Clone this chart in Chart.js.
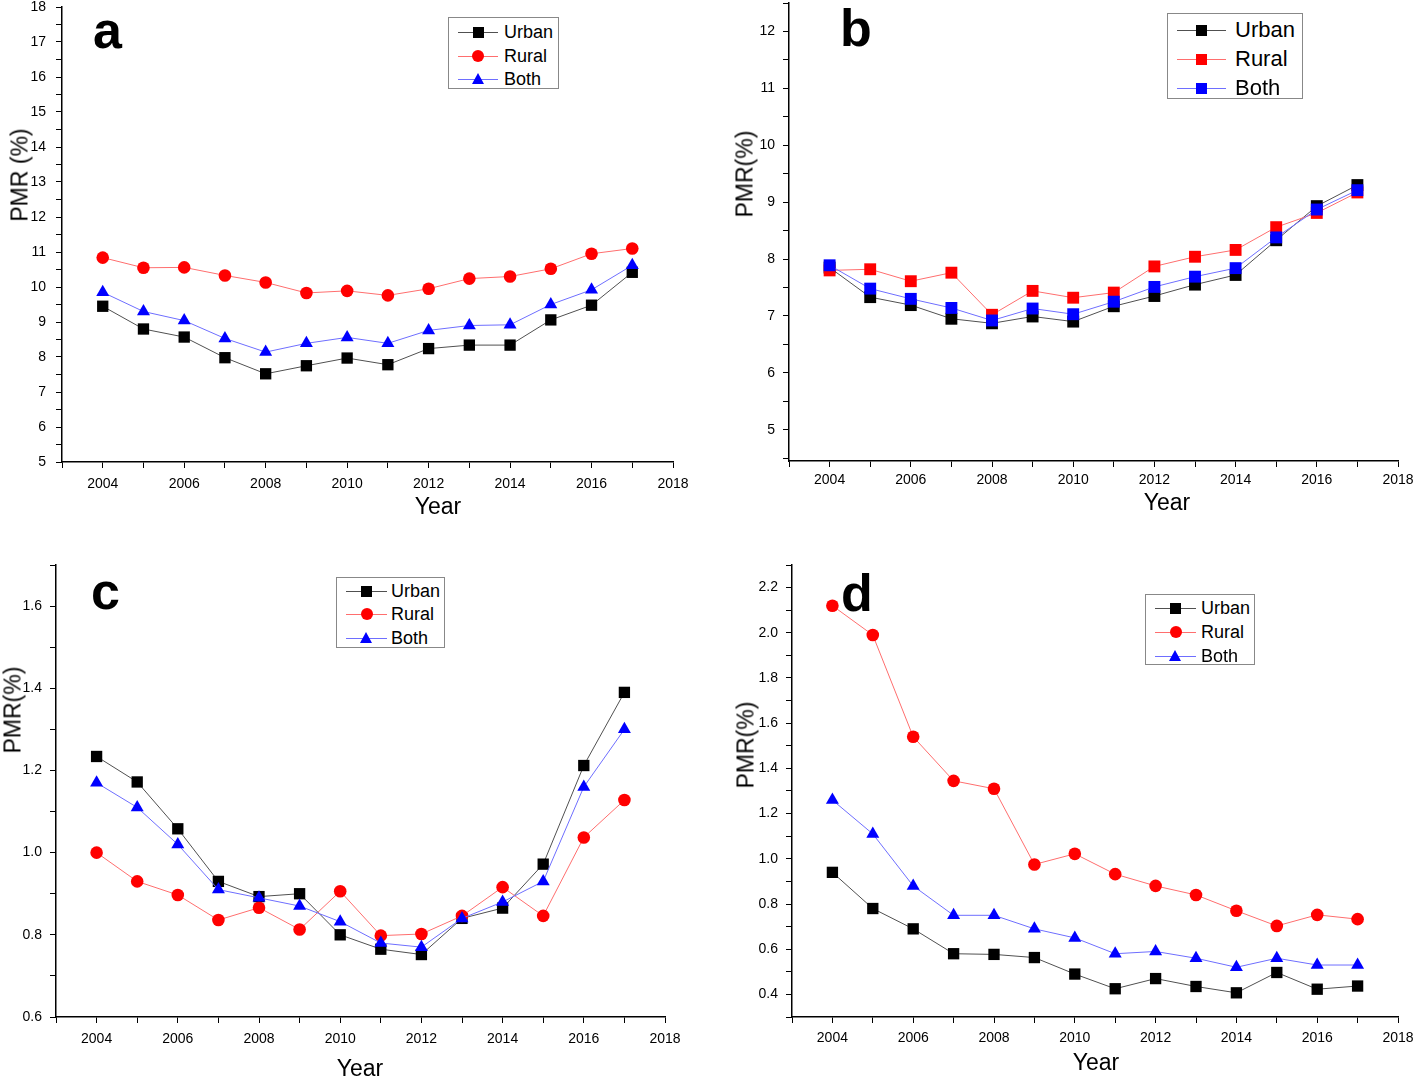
<!DOCTYPE html>
<html>
<head>
<meta charset="utf-8">
<script src="https://cdn.jsdelivr.net/npm/chart.js@4.4.1/dist/chart.umd.min.js"></script>
<style>
  body { margin: 0; background: #fff; font-family: "Liberation Sans", Arial, sans-serif; }
  #wrap { position: relative; width: 1418px; height: 1080px; overflow: hidden; background: #fff; }
  .panel { position: absolute; }
  .txt { position: absolute; white-space: nowrap; color: #000; }
  .letter { font-weight: bold; font-size: 52px; line-height: 1; }
  .ytitle { transform: translate(-50%, -50%) rotate(-90deg); font-size: 23px; }
  .xtitle { transform: translate(-50%, -50%); font-size: 23px; }
  .legend { position: absolute; border: 1.5px solid #888; background: #fff; box-sizing: border-box; }
</style>
</head>
<body>
<div id="wrap">
  <div class="panel" style="left:0;top:0"><canvas id="chartA" width="700" height="520"></canvas></div>
  <div class="panel" style="left:709px;top:0"><canvas id="chartB" width="709" height="520"></canvas></div>
  <div class="panel" style="left:0;top:540px"><canvas id="chartC" width="700" height="540"></canvas></div>
  <div class="panel" style="left:709px;top:540px"><canvas id="chartD" width="709" height="540"></canvas></div>

  <div class="txt letter" style="left:93px;top:4px">a</div>
  <div class="txt letter" style="left:840px;top:2px">b</div>
  <div class="txt letter" style="left:91px;top:565px">c</div>
  <div class="txt letter" style="left:841px;top:567px">d</div>

  <div class="txt ytitle" style="left:20px;top:175px">PMR (%)</div>
  <div class="txt ytitle" style="left:745px;top:174px">PMR(%)</div>
  <div class="txt ytitle" style="left:13px;top:710px">PMR(%)</div>
  <div class="txt ytitle" style="left:746px;top:745px">PMR(%)</div>

  <div class="txt xtitle" style="left:438px;top:506px">Year</div>
  <div class="txt xtitle" style="left:1167px;top:502px">Year</div>
  <div class="txt xtitle" style="left:360px;top:1068px">Year</div>
  <div class="txt xtitle" style="left:1096px;top:1062px">Year</div>
</div>

<script>
const years = [2004, 2005, 2006, 2007, 2008, 2009, 2010, 2011, 2012, 2013, 2014, 2015, 2016, 2017];
const seriesNames = ['Urban', 'Rural', 'Both'];

// panel a
const urbanA = [9.45, 8.8, 8.57, 7.98, 7.52, 7.75, 7.97, 7.78, 8.24, 8.34, 8.34, 9.06, 9.48, 10.42];
const ruralA = [10.84, 10.55, 10.56, 10.33, 10.13, 9.83, 9.89, 9.76, 9.95, 10.24, 10.3, 10.52, 10.95, 11.1];
const bothA  = [9.85, 9.3, 9.04, 8.53, 8.14, 8.39, 8.56, 8.39, 8.76, 8.9, 8.92, 9.5, 9.92, 10.62];

// panel b
const urbanB = [7.85, 7.33, 7.19, 6.95, 6.87, 6.99, 6.9, 7.17, 7.35, 7.55, 7.72, 8.33, 8.93, 9.3];
const ruralB = [7.8, 7.82, 7.61, 7.76, 7.02, 7.44, 7.32, 7.41, 7.87, 8.04, 8.16, 8.56, 8.81, 9.17];
const bothB  = [7.89, 7.48, 7.3, 7.14, 6.92, 7.13, 7.03, 7.25, 7.51, 7.69, 7.84, 8.38, 8.87, 9.21];

// panel c
const urbanC = [1.234, 1.172, 1.058, 0.93, 0.893, 0.9, 0.8, 0.765, 0.752, 0.84, 0.865, 0.972, 1.212, 1.39];
const ruralC = [1.0, 0.93, 0.897, 0.836, 0.866, 0.813, 0.906, 0.798, 0.802, 0.846, 0.916, 0.846, 1.037, 1.128];
const bothC  = [1.17, 1.11, 1.02, 0.91, 0.89, 0.87, 0.832, 0.78, 0.77, 0.84, 0.88, 0.93, 1.16, 1.3];

// panel d
const urbanD = [0.94, 0.78, 0.69, 0.58, 0.577, 0.563, 0.49, 0.425, 0.47, 0.435, 0.407, 0.497, 0.423, 0.437];
const ruralD = [2.12, 1.99, 1.54, 1.345, 1.31, 0.975, 1.022, 0.932, 0.88, 0.84, 0.77, 0.703, 0.752, 0.733];
const bothD  = [1.26, 1.11, 0.88, 0.75, 0.75, 0.69, 0.65, 0.58, 0.59, 0.56, 0.52, 0.56, 0.53, 0.53];

const lineColors = ['#505050', '#ff6e6e', '#6e6eff'];
const markColors = ['#000000', '#ff0000', '#0000ff'];

const isMult = (v, step) => Math.abs(v / step - Math.round(v / step)) < 1e-6;

function stepTicks(min, max, step) {
  const out = [];
  const start = Math.ceil(min / step - 1e-6);
  const end = Math.floor(max / step + 1e-6);
  for (let i = start; i <= end; i++) out.push({ value: +(i * step).toFixed(4) });
  return out;
}

// no extra room for edge labels, the plot box is set by hand
function noPad(s) {
  s.paddingTop = 0; s.paddingBottom = 0; s.paddingLeft = 0; s.paddingRight = 0;
}

function makePanel(id, opts) {
  const canvas = document.getElementById(id);
  const W = canvas.width, H = canvas.height;
  const datasets = opts.values.map((vals, i) => ({
    label: seriesNames[i],
    data: years.map((y, k) => ({ x: y, y: vals[k] })),
    borderColor: lineColors[i],
    borderWidth: 1,
    backgroundColor: markColors[i],
    pointBackgroundColor: markColors[i],
    pointBorderColor: markColors[i],
    pointBorderWidth: 0,
    pointStyle: opts.styles[i],
    pointRadius: opts.radii[i],
    order: 2 - i
  }));
  const tickFont = { family: 'Liberation Sans', size: 14 };

  new Chart(canvas.getContext('2d'), {
    type: 'line',
    data: { datasets },
    options: {
      responsive: false,
      animation: false,
      devicePixelRatio: 1,
      layout: { autoPadding: false, padding: { left: 0, top: opts.top, right: W - opts.right, bottom: 0 } },
      plugins: { legend: { display: false }, tooltip: { enabled: false } },
      elements: { line: { tension: 0 } },
      scales: {
        x: {
          type: 'linear', min: 2003, max: 2018,
          afterFit: s => { s.height = H - opts.bottom; noPad(s); },
          afterBuildTicks: s => { s.ticks = stepTicks(2003, 2018, 1); },
          ticks: {
            autoSkip: false, maxRotation: 0, color: '#000', font: tickFont, padding: opts.xpad,
            callback: v => (v % 2 === 0 ? String(v) : '')
          },
          grid: { drawOnChartArea: false, tickLength: 6, tickColor: '#000', color: '#000' },
          border: { color: '#000', width: 1.5 }
        },
        y: {
          type: 'linear', min: opts.ymin, max: opts.ymax,
          afterFit: s => { s.width = opts.left; noPad(s); },
          afterBuildTicks: s => { s.ticks = stepTicks(opts.ymin, opts.ymax, opts.minor); },
          ticks: {
            autoSkip: false, color: '#000', font: tickFont, padding: opts.ypad,
            callback: v => (isMult(v, opts.major) ? v.toFixed(opts.dec) : '')
          },
          grid: { drawOnChartArea: false, tickLength: 6, tickColor: '#000', color: '#000' },
          border: { color: '#000', width: 1.5 }
        }
      }
    }
  });
}

makePanel('chartA', {
  values: [urbanA, ruralA, bothA], styles: ['rect', 'circle', 'triangle'], radii: [8, 6.3, 7.5],
  left: 62, right: 673, top: 7, bottom: 462, ymin: 5, ymax: 18, major: 1, minor: 0.5, dec: 0, xpad: 8, ypad: 10
});
makePanel('chartB', {
  values: [urbanB, ruralB, bothB], styles: ['rect', 'rect', 'rect'], radii: [8.4, 8.4, 8.4],
  left: 80, right: 689, top: 3, bottom: 461, ymin: 4.45, ymax: 12.5, major: 1, minor: 0.5, dec: 0, xpad: 5, ypad: 8
});
makePanel('chartC', {
  values: [urbanC, ruralC, bothC], styles: ['rect', 'circle', 'triangle'], radii: [8, 6.3, 7.5],
  left: 56, right: 665, top: 25, bottom: 477, ymin: 0.6, ymax: 1.7, major: 0.2, minor: 0.1, dec: 1, xpad: 8, ypad: 8
});
makePanel('chartD', {
  values: [urbanD, ruralD, bothD], styles: ['rect', 'circle', 'triangle'], radii: [8, 6.3, 7.5],
  left: 83, right: 689, top: 25, bottom: 477, ymin: 0.3, ymax: 2.3, major: 0.2, minor: 0.1, dec: 1, xpad: 7, ypad: 8
});

// legend boxes drawn as html
function addLegend(box) {
  const wrap = document.getElementById('wrap');
  const el = document.createElement('div');
  el.className = 'legend';
  el.style.left = box.x + 'px';
  el.style.top = box.y + 'px';
  el.style.width = box.w + 'px';
  el.style.height = box.h + 'px';
  wrap.appendChild(el);
  seriesNames.forEach((name, i) => {
    const cy = box.rows[i] - box.y;
    const line = document.createElement('div');
    line.style.cssText = `position:absolute;left:${box.lx - box.x}px;top:${cy}px;width:${box.lw}px;height:0;border-top:1px solid ${lineColors[i]};`;
    el.appendChild(line);
    const mx = box.lx - box.x + box.lw / 2;
    const m = document.createElement('div');
    const shape = box.shapes[i];
    const s = box.ms;
    if (shape === 'triangle') {
      m.style.cssText = `position:absolute;left:${mx - s / 2 - 1}px;top:${cy - s / 2 - 1}px;width:0;height:0;border-left:${s / 2 + 1}px solid transparent;border-right:${s / 2 + 1}px solid transparent;border-bottom:${s}px solid ${markColors[i]};`;
    } else {
      const r = shape === 'circle' ? '50%' : '0';
      const sz = shape === 'circle' ? s + 1 : s;
      m.style.cssText = `position:absolute;left:${mx - sz / 2}px;top:${cy - sz / 2}px;width:${sz}px;height:${sz}px;border-radius:${r};background:${markColors[i]};`;
    }
    el.appendChild(m);
    const t = document.createElement('div');
    t.className = 'txt';
    t.textContent = name;
    t.style.cssText += `left:${box.tx - box.x}px;top:${cy}px;transform:translateY(-50%);font-size:${box.fs}px;line-height:1;`;
    el.appendChild(t);
  });
}

addLegend({ x: 448, y: 17, w: 111, h: 72, rows: [31, 55, 78], lx: 457, lw: 40, tx: 503, fs: 18, ms: 11, shapes: ['rect', 'circle', 'triangle'] });
addLegend({ x: 1167, y: 13, w: 136, h: 86, rows: [29, 58, 87], lx: 1176, lw: 49, tx: 1234, fs: 22, ms: 11, shapes: ['rect', 'rect', 'rect'] });
addLegend({ x: 336, y: 577, w: 109, h: 71, rows: [590, 613, 637], lx: 345, lw: 41, tx: 390, fs: 18, ms: 11, shapes: ['rect', 'circle', 'triangle'] });
addLegend({ x: 1145, y: 594, w: 110, h: 71, rows: [607, 631, 655], lx: 1154, lw: 41, tx: 1200, fs: 18, ms: 11, shapes: ['rect', 'circle', 'triangle'] });
</script>
</body>
</html>
